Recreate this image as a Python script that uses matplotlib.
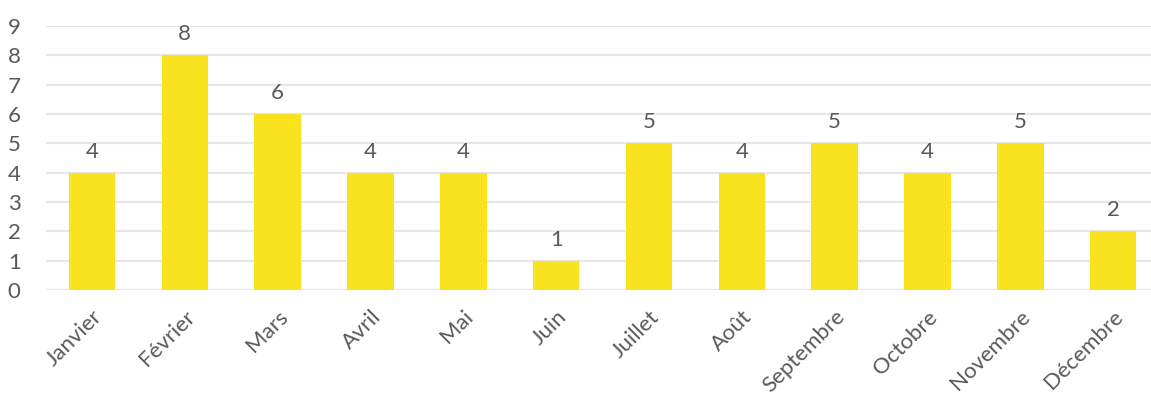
import numpy as np
import matplotlib.pyplot as plt

plt.rcParams['font.family'] = ['Lato', 'DejaVu Sans']

mois = ['Janvier', 'Février', 'Mars', 'Avril', 'Mai', 'Juin', 'Juillet',
        'Août', 'Septembre', 'Octobre', 'Novembre', 'Décembre']
valeurs = [4, 8, 6, 4, 4, 1, 5, 4, 5, 4, 5, 2]

gris = '#595959'

fig = plt.figure(figsize=(11.51, 3.94), dpi=100)
ax = fig.add_axes([45.6 / 1151, 1 - 290 / 394, 1114 / 1151, 264 / 394])

x = np.arange(len(mois))
bars = ax.bar(x, valeurs, width=0.5, color='#F9E21E', zorder=3)
for b, v in zip(bars, valeurs):
    ax.annotate(str(v), (b.get_x() + b.get_width() / 2, v), xytext=(0, 8),
                textcoords='offset points', ha='center', va='bottom',
                fontsize=16, color=gris)

ax.set_xlim(-0.5, 11.5)
ax.set_ylim(0, 9)
ax.set_yticks(range(10))
ax.yaxis.grid(True, color='#E6E6E6', linewidth=1.5, zorder=0)
ax.set_xticks(x)
ax.set_xticklabels(mois, rotation=45, ha='right', rotation_mode='anchor')
ax.tick_params(axis='both', length=0, labelsize=16, colors=gris)
ax.tick_params(axis='x', pad=12)
ax.tick_params(axis='y', pad=18)
for s in ax.spines.values():
    s.set_visible(False)

plt.savefig('out.png', dpi=100)
